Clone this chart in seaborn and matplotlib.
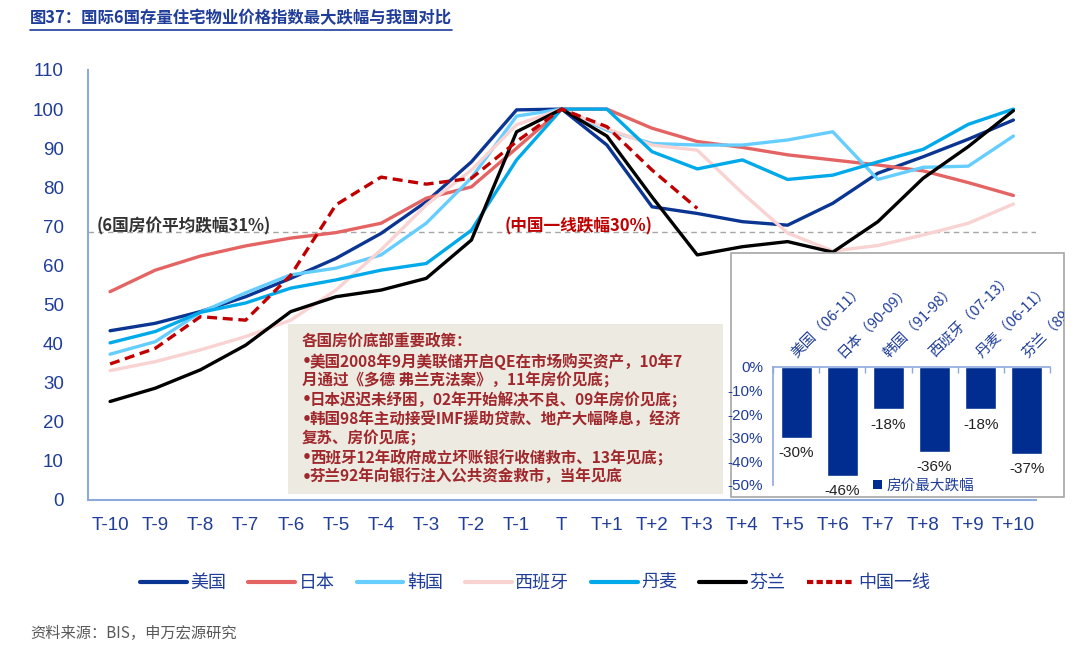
import numpy as np
import pandas as pd
import matplotlib
matplotlib.use('Agg')
import matplotlib.pyplot as plt
from matplotlib.patches import Rectangle, Patch
from matplotlib.lines import Line2D
import matplotlib.transforms as mtransforms
import seaborn as sns

# ---- data ----
periods = ['T-10', 'T-9', 'T-8', 'T-7', 'T-6', 'T-5', 'T-4', 'T-3', 'T-2', 'T-1', 'T',
           'T+1', 'T+2', 'T+3', 'T+4', 'T+5', 'T+6', 'T+7', 'T+8', 'T+9', 'T+10']
us = [43.3, 45.2, 48.2, 52.0, 56.7, 61.8, 68.2, 76.3, 86.5, 99.8, 100,
      90.8, 75.0, 73.3, 71.2, 70.3, 75.9, 83.6, 87.8, 92.3, 97.2]
japan = [53.3, 58.8, 62.4, 65.0, 67.0, 68.4, 70.8, 77.2, 80.1, 90.0, 100,
         100, 95.1, 91.7, 90.2, 88.3, 87.0, 85.7, 84.2, 81.2, 77.9]
korea = [37.3, 40.5, 48.0, 53.0, 57.6, 59.3, 62.7, 70.8, 82.4, 98.2, 100,
         94.6, 91.2, 90.8, 90.8, 92.1, 94.2, 82.0, 85.1, 85.4, 93.1]
spain = [33.1, 35.4, 38.4, 41.8, 46.0, 53.7, 64.0, 75.5, 84.4, 96.0, 100,
         95.0, 90.8, 89.5, 78.5, 68.3, 63.7, 65.1, 67.8, 70.8, 75.7]
denmark = [40.2, 43.1, 48.0, 50.4, 54.2, 56.3, 58.8, 60.5, 69.0, 87.0, 100,
           100, 89.1, 84.7, 87.0, 82.0, 83.1, 86.5, 89.7, 96.1, 100]
finland = [25.2, 28.6, 33.3, 39.6, 48.2, 52.0, 53.7, 56.7, 66.5, 94.2, 100,
           93.1, 77.5, 62.7, 64.8, 66.1, 63.4, 71.2, 82.3, 90.4, 99.6]
china = [34.8, 38.8, 46.9, 46.0, 57.5, 75.5, 82.6, 80.8, 82.3, 91.7, 100,
         95.5, 84.4, 74.6]

series_names = ['美国', '日本', '韩国', '西班牙', '丹麦', '芬兰', '中国一线']
series_vals = [us, japan, korea, spain, denmark, finland, china]
colors = ['#0B3592', '#E46464', '#66CDFF', '#F9D2D2', '#00A9EA', '#000000', '#C00000']

avg_level = 68.5

bar_cats = ['美国（06-11）', '日本（90-09）', '韩国（91-98）', '西班牙（07-13）', '丹麦（06-11）', '芬兰（89-93）']
bar_vals = [-30, -46, -18, -36, -18, -37]

policy_lines = [
    '各国房价底部重要政策：',
    '•美国2008年9月美联储开启QE在市场购买资产，10年7',
    '月通过《多德 弗兰克法案》，11年房价见底；',
    '•日本迟迟未纾困，02年开始解决不良、09年房价见底；',
    '•韩国98年主动接受IMF援助贷款、地产大幅降息，经济',
    '复苏、房价见底；',
    '•西班牙12年政府成立坏账银行收储救市、13年见底；',
    '•芬兰92年向银行注入公共资金救市，当年见底',
]

# ---- style ----
sns.set_style('white')
plt.rcParams['font.family'] = ['Noto Sans CJK SC', 'DejaVu Sans']
navy = '#1F3D99'
axis_blue = '#8EA9DB'
latin = ['Liberation Sans', 'DejaVu Sans']

W, H = 1080, 651
fig = plt.figure(figsize=(W / 100, H / 100), dpi=100)

def fx(px):
    return px / W

def fy(py):
    return 1 - py / H

ax = fig.add_axes([fx(87.5), fy(500), fx(1036) - fx(87.5), fy(70) - fy(500)])

for name, vals, c in zip(series_names, series_vals, colors):
    xs = np.arange(len(vals))
    ls = (0, (3, 1.7)) if name == '中国一线' else '-'
    sns.lineplot(x=xs, y=vals, ax=ax, color=c, linewidth=2.4, linestyle=ls,
                 label=name, legend=False)

ax.axhline(avg_level, color='#A6A6A6', linestyle=(0, (4, 3)), linewidth=1.0, zorder=0)

ax.set_xlim(-0.5, 20.5)
ax.set_ylim(0, 110)
ax.set_yticks(np.arange(0, 111, 10))
ax.set_xticks(np.arange(len(periods)))
ax.set_xticklabels(periods, family=['Liberation Sans Narrow', 'Liberation Sans'])
ax.set_xticks(np.arange(-0.5, 21, 1), minor=True)
ax.tick_params(axis='x', which='major', length=0, pad=12, labelsize=13.5, labelcolor=navy)
ax.tick_params(axis='x', which='minor', length=6, width=1, color=axis_blue, direction='out')
ax.tick_params(axis='y', length=5, width=1, color=axis_blue, direction='out', pad=12,
               labelsize=13.5, labelcolor=navy)
for lab in ax.get_yticklabels():
    lab.set_family(latin)
for s in ['top', 'right']:
    ax.spines[s].set_visible(False)
for s in ['left', 'bottom']:
    ax.spines[s].set_color(axis_blue)
    ax.spines[s].set_linewidth(1.5)
ax.set_xlabel('')
ax.set_ylabel('')

ax.text(-0.29, 70.1, '(6国房价平均跌幅31%)', fontsize=12, fontweight='bold',
        color='#333333', va='center', ha='left')
ax.text(8.74, 70.1, '(中国一线跌幅30%)', fontsize=12, fontweight='bold',
        color='#C00000', va='center', ha='left')

# policy note box
fig.add_artist(Rectangle((fx(288), fy(494)), fx(723) - fx(288), fy(324) - fy(494),
                         transform=fig.transFigure, facecolor='#EDEAE1', edgecolor='none', zorder=2))
for i, line in enumerate(policy_lines):
    y = fy(342 + i * 19.3)
    if line.startswith('•'):
        fig.text(fx(302), y, '•', fontsize=11.2, fontweight='bold', color='#A0282D',
                 va='center', ha='left', zorder=3, family=['DejaVu Sans'])
        fig.text(fx(310), y, line[1:], fontsize=11.2, fontweight='bold', style='italic',
                 color='#A0282D', va='center', ha='left', zorder=3)
    else:
        fig.text(fx(302), y, line, fontsize=11.2, fontweight='bold', style='italic',
                 color='#A0282D', va='center', ha='left', zorder=3)

# inset panel
box = Rectangle((fx(731), fy(497)), fx(1064) - fx(731), fy(253) - fy(497),
                transform=fig.transFigure, facecolor='white', edgecolor='#A6A6A6',
                linewidth=1.2, zorder=2)
fig.add_artist(box)

iax = fig.add_axes([fx(773), fy(485), fx(1050) - fx(773), fy(367) - fy(485)], zorder=3)
iax.patch.set_alpha(0)
bar_df = pd.DataFrame({'cat': bar_cats, 'val': bar_vals})
sns.barplot(data=bar_df, x='cat', y='val', color='#002D8F', saturation=1, width=0.67, ax=iax)
iax.set_xlim(-0.5, 5.5)
iax.set_ylim(-50, 0)
iax.set_yticks(np.arange(-50, 1, 10))
iax.set_yticklabels([f'{v}%' for v in range(-50, 1, 10)], family=latin)
iax.tick_params(axis='y', length=4, width=1, color=axis_blue, direction='out', pad=3,
                labelsize=11, labelcolor=navy)
iax.set_xticks([])
iax.set_xticks(np.arange(-0.5, 6, 1), minor=True)
iax.tick_params(axis='x', which='minor', top=True, bottom=False, length=4, width=1,
                color=axis_blue, direction='in')
iax.set_xlabel('')
iax.set_ylabel('')
for s in ['bottom', 'right']:
    iax.spines[s].set_visible(False)
for s in ['top', 'left']:
    iax.spines[s].set_color(axis_blue)
    iax.spines[s].set_linewidth(1.2)

trans = mtransforms.blended_transform_factory(iax.transData, iax.transAxes)
for i, (c, v) in enumerate(zip(bar_cats, bar_vals)):
    t = iax.text(i - 0.05, 1.1, c, transform=trans, rotation=45, rotation_mode='anchor',
                 ha='left', va='center', fontsize=10.5, color=navy, clip_on=True)
    t.set_clip_path(box)
    iax.text(i, v - 6.4, f'{v}%', ha='center', va='center', fontsize=11,
             color='#222222', clip_on=False, family=latin)

iax.legend(handles=[Patch(facecolor='#002D8F', edgecolor='none')], labels=['房价最大跌幅'],
           loc='center left', bbox_to_anchor=(fx(866), fy(486)), bbox_transform=fig.transFigure,
           frameon=False, handlelength=0.6, handleheight=0.6, handletextpad=0.3,
           fontsize=10.5, labelcolor=navy, borderpad=0)

# main legend
handles = [Line2D([0], [0], color=c, linewidth=3,
                  linestyle=(0, (1.5, 0.8)) if n == '中国一线' else '-')
           for n, c in zip(series_names, colors)]
fig.legend(handles, series_names, loc='center', bbox_to_anchor=(fx(535), fy(583)),
           ncol=7, frameon=False, fontsize=13, handlelength=2.6, columnspacing=1.2,
           handletextpad=0.2, labelcolor=navy)

# title and source
title = fig.text(fx(30), fy(18), '图37：国际6国存量住宅物业价格指数最大跌幅与我国对比',
                 fontsize=11.8, fontweight='bold', color=navy, va='center', ha='left')
fig.canvas.draw()
bb = title.get_window_extent().transformed(fig.transFigure.inverted())
fig.add_artist(Line2D([bb.x0, bb.x1], [fy(30), fy(30)], transform=fig.transFigure,
                      color=navy, linewidth=1.2))

fig.text(fx(30), fy(633), '资料来源：BIS，申万宏源研究', fontsize=11, color='#595959',
         va='center', ha='left')

fig.savefig('out.png', dpi=100)
